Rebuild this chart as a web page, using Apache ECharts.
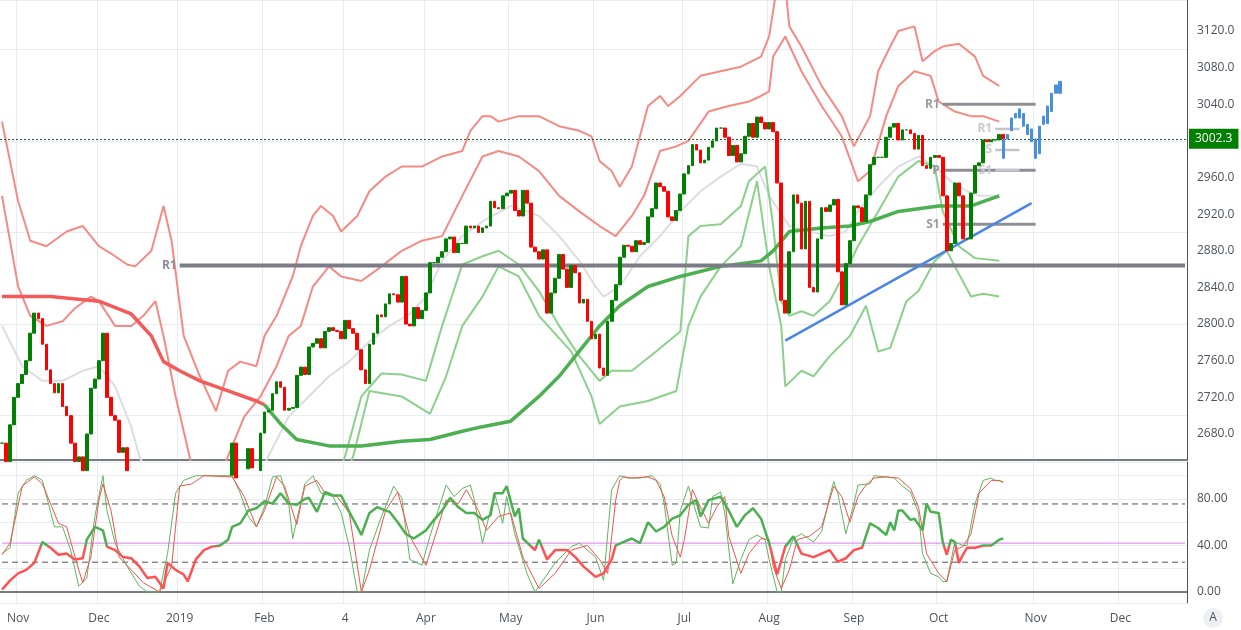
<!DOCTYPE html>
<html><head><meta charset="utf-8">
<script src="https://cdn.jsdelivr.net/npm/echarts@6/dist/echarts.min.js"></script>
<style>html,body{margin:0;padding:0;background:#fff}#c{width:1241px;height:630px}</style>
</head><body><div id="c"></div>
<script>
// ---- categories (trading-day slots) and month tick labels ----
const N = 294;
const monthTicks = {4:'Nov',24:'Dec',44:'2019',65:'Feb',85:'4',105:'Apr',126:'May',147:'Jun',169:'Jul',190:'Aug',211:'Sep',232:'Oct',256:'Nov',277:'Dec'};
const priceTicks = [2680,2720,2760,2800,2840,2880,2920,2960,3000,3040,3080,3120];
const oscTicks = [0,40,80];

// ---- daily closes ----
const closes = [
2670,2650,2690,2720,2735,
2745,2760,2790,2812,2806,2778,2750,2735,2725,2735,2710,2700,2670,2650,2655,2640,2680,2730,2740,2760,2790,
2720,2700,2695,2660,2665,2640,2650,2600,2595,2545,2505,2470,2420,2360,2460,2490,2485,2505,2535,2510,
2447,2531,2549,2574,2584,2596,2596,2582,2610,2616,2635,2670,2632,2638,2642,2664,2643,2640,2681,2704,
2706,2724,2737,2731,2706,2708,2709,2744,2753,2745,2775,2779,2784,2774,2792,2796,2793,2792,2784,
2804,2795,2790,2772,2750,2735,2778,2790,2810,2808,2822,2833,2832,2824,2852,2800,2798,2818,2806,2815,2834,
2867,2867,2873,2879,2893,2895,2878,2888,2888,2907,2905,2907,2900,2905,2907,2934,2927,2926,2940,2943,2946,
2924,2918,2946,2932,2884,2879,2871,2881,2812,2834,2850,2876,2860,2840,2864,2856,2823,2827,2803,2784,2789,2752,
2744,2803,2826,2843,2873,2886,2885,2879,2891,2887,2889,2917,2926,2954,2950,2945,2917,2913,2924,2942,
2964,2973,2996,2990,2976,2979,2993,3000,3014,3014,3004,2984,2995,2977,2986,3005,3019,3004,3026,3020,3013,3020,
3010,2954,2826,2812,2879,2941,2932,2882,2934,2840,2835,2893,2927,2923,2930,2936,2857,2821,2866,2891,2929,2927,2912,2941,2974,2982,2982,2982,3004,3015,3019,3001,3012,3012,3008,2991,3006,2973,2970,2982,2984,2982,2940,2880,2888,2954,2940,2893,2893,2943,2973,2976,3001,2999,3001,3001,3007,3002.3
];
const lastPrice = 3002.3;

// ---- projection bars [index, low, high] ----
const projection = [[248,2981,3002],[249,3002,3007],[250,3011,3025],[251,3025,3030],[252,3025,3035],[253,3016,3030],[254,3007,3018],[255,2999,3013],[256,2981,3002],[257,2986,3016],[258,3018,3027],[259,3019,3038],[260,3032,3052],[261,3052,3061],[262,3052,3065]];

// ---- overlay lines [index, price] ----
const redBandA = [[0,3021],[4,2934],[7,2891],[11,2885],[16,2901],[20,2907],[24,2885],[27,2877],[31,2865],[33,2863],[37,2880],[40,2929],[42,2891],[45,2787],[49,2743],[53,2705],[56,2749],[59,2759],[63,2754],[65,2787],[68,2809],[72,2852],[74,2885],[77,2918],[79,2929],[82,2918],[84,2901],[88,2918],[91,2945],[95,2961],[99,2972],[104,2972],[109,2983],[114,2989],[116,3011],[119,3027],[121,3027],[123,3021],[128,3027],[133,3027],[138,3016],[143,3011],[146,3005],[148,2978],[151,2967],[153,2950],[156,2972],[158,3005],[160,3038],[163,3049],[165,3038],[168,3049],[173,3071],[178,3076],[183,3081],[188,3092],[190,3114],[192,3170],[194,3170],[195,3125],[198,3103],[203,3060],[208,3027],[211,2994],[215,3027],[217,3076],[220,3103],[222,3120],[226,3125],[228,3087],[231,3098],[233,3103],[237,3106],[241,3092],[243,3071],[247,3060]];
const redBandB = [[0,2940],[4,2841],[7,2809],[11,2798],[15,2803],[18,2817],[22,2830],[24,2825],[28,2798],[32,2798],[35,2809],[38,2825],[40,2787],[43,2721],[47,2645],[51,2600],[56,2656],[60,2699],[64,2721],[68,2754],[71,2787],[74,2798],[77,2841],[81,2863],[84,2852],[89,2847],[94,2863],[99,2880],[104,2891],[109,2896],[114,2940],[119,2983],[123,2989],[128,2983],[133,2967],[138,2940],[143,2923],[148,2907],[152,2896],[156,2918],[159,2940],[163,2989],[167,2994],[170,3000],[175,3032],[180,3038],[185,3043],[188,3049],[190,3054],[191,3092],[194,3114],[198,3076],[203,3038],[208,3005],[212,2956],[215,2967],[219,3027],[222,3060],[226,3076],[230,3071],[232,3043],[236,3032],[240,3027],[243,3027],[247,3021]];
const greenBandA = [[80,2600],[85,2656],[89,2721],[94,2746],[99,2745],[105,2738],[109,2798],[114,2865],[119,2874],[123,2880],[128,2865],[133,2836],[138,2798],[143,2765],[148,2738],[151,2749],[156,2749],[162,2770],[168,2792],[170,2896],[173,2907],[178,2909],[183,2929],[185,2956],[189,2972],[191,2907],[193,2825],[195,2809],[198,2814],[201,2809],[205,2825],[209,2858],[212,2885],[217,2923],[222,2961],[227,2978],[231,2972],[233,2923],[237,2885],[241,2872],[247,2869]];
const greenBandB = [[82,2600],[87,2656],[91,2727],[99,2721],[106,2702],[110,2743],[114,2798],[119,2830],[123,2863],[128,2852],[133,2809],[141,2770],[146,2721],[148,2691],[153,2710],[160,2716],[167,2727],[170,2798],[173,2830],[178,2863],[183,2885],[187,2956],[190,2863],[193,2798],[194,2732],[198,2749],[201,2743],[205,2765],[210,2787],[214,2820],[217,2770],[220,2774],[224,2825],[227,2836],[231,2869],[234,2880],[236,2863],[240,2830],[243,2833],[247,2830]];
const grayMid = [[0,2798],[5,2754],[10,2738],[15,2738],[20,2749],[24,2754],[28,2732],[32,2688],[34,2656],[40,2600],[50,2560],[60,2600],[66,2656],[71,2699],[76,2721],[81,2743],[86,2759],[91,2781],[96,2798],[101,2811],[105,2830],[109,2869],[114,2896],[119,2912],[126,2929],[130,2923],[133,2918],[138,2896],[143,2869],[147,2841],[149,2830],[153,2841],[158,2874],[163,2896],[168,2923],[173,2945],[178,2961],[183,2975],[187,2972],[190,2940],[195,2907],[200,2901],[205,2896],[209,2901],[212,2923],[217,2950],[222,2972],[227,2983],[231,2972],[235,2956],[239,2945],[242,2940],[247,2940]];
const slowMaRed = [[0,2830],[12,2830],[24,2825],[32,2811],[37,2787],[40,2759],[44,2749],[49,2738],[56,2727],[63,2716],[65,2712]];
const slowMaGreen = [[65,2712],[69,2691],[73,2674],[81,2667],[89,2667],[99,2672],[106,2674],[114,2683],[119,2688],[126,2694],[133,2721],[138,2743],[142,2765],[148,2798],[153,2820],[160,2841],[168,2852],[178,2863],[188,2869],[191,2880],[195,2901],[203,2905],[210,2907],[215,2912],[222,2923],[232,2929],[240,2929],[247,2940]];
const trendLine = [[194,2782],[255,2932]];
const pivotMain = {name:'R1', from:44, to:293, value:2864};
const pivots = [{name:'R1',from:233,to:256,value:3040},{name:'P',from:233,to:256,value:2968},{name:'S1',from:233,to:256,value:2909}];
const pivotsLight = [{name:'R1',from:246,to:252,value:3013},{name:'S',from:246,to:252,value:2990},{name:'S1',from:246,to:252,value:2968}];

// ---- oscillator [index, value] ----
const oscThick = [[0,2],[2,10],[4,16],[6,19],[8,25],[10,43],[12,38],[14,32],[16,33],[18,28],[20,29],[21,45],[23,56],[25,53],[26,39],[28,36],[30,30],[32,29],[34,22],[36,12],[38,13],[40,3],[41,25],[43,19],[45,15],[46,9],[48,28],[50,36],[52,39],[54,40],[56,45],[57,56],[59,59],[61,70],[63,72],[65,78],[67,76],[69,85],[71,76],[73,75],[75,80],[76,81],[78,69],[80,86],[82,83],[84,83],[86,69],[88,56],[89,49],[91,68],[93,73],[95,70],[96,69],[98,60],[100,50],[102,46],[105,53],[107,62],[109,70],[111,81],[113,73],[115,68],[117,68],[119,62],[121,66],[122,85],[124,85],[125,91],[127,65],[128,72],[129,46],[132,36],[133,45],[135,28],[137,36],[140,36],[142,30],[144,22],[147,13],[149,16],[151,28],[152,40],[154,43],[156,46],[158,42],[160,60],[162,52],[164,56],[166,63],[168,66],[170,75],[172,79],[173,65],[175,79],[178,82],[180,70],[182,56],[184,66],[186,72],[188,63],[190,42],[192,15],[194,39],[196,48],[198,33],[201,30],[203,33],[205,36],[207,26],[209,29],[211,36],[213,38],[215,59],[217,55],[219,49],[220,60],[221,53],[222,70],[223,70],[225,62],[226,63],[228,53],[229,76],[230,69],[232,68],[233,43],[234,32],[235,45],[236,43],[237,25],[238,32],[239,38],[241,38],[243,40],[245,40],[247,45],[248,46]];
const stochK = [[0,33],[2,38],[4,85],[6,96],[8,100],[10,96],[13,56],[15,56],[17,36],[19,5],[21,12],[23,65],[25,100],[26,70],[28,42],[31,22],[34,5],[36,0],[39,0],[41,33],[43,85],[45,96],[48,100],[51,100],[57,100],[59,85],[61,65],[63,56],[65,73],[67,99],[69,100],[71,76],[72,46],[75,93],[77,100],[79,85],[82,82],[84,68],[86,39],[88,0],[89,0],[91,36],[94,65],[97,91],[99,81],[101,28],[104,23],[106,48],[108,70],[110,92],[112,82],[114,89],[116,92],[117,79],[119,42],[122,85],[124,59],[125,82],[127,50],[130,16],[132,0],[137,25],[141,39],[143,42],[147,30],[149,10],[151,88],[153,100],[155,98],[158,98],[161,100],[163,93],[164,76],[166,23],[167,25],[168,70],[170,91],[171,79],[173,56],[175,55],[176,82],[178,86],[179,68],[181,7],[183,28],[185,45],[187,49],[189,45],[190,28],[192,0],[193,0],[194,28],[196,46],[198,50],[201,43],[203,52],[205,82],[206,95],[207,85],[209,50],[211,76],[212,92],[215,93],[216,100],[219,99],[221,98],[223,91],[225,86],[227,68],[228,33],[230,16],[232,13],[233,9],[234,9],[236,43],[238,40],[239,40],[241,76],[243,96],[245,98],[246,96],[248,95]];
const stochD = [[0,32],[2,42],[5,91],[8,99],[10,93],[14,59],[16,56],[19,19],[20,8],[22,30],[24,79],[25,93],[27,70],[29,30],[32,19],[35,8],[39,0],[42,22],[44,91],[47,93],[50,100],[57,99],[60,82],[63,56],[65,70],[68,99],[70,91],[73,58],[75,91],[78,96],[80,85],[83,82],[86,68],[89,0],[91,19],[95,70],[98,86],[101,48],[105,23],[108,56],[110,79],[113,76],[115,88],[118,70],[120,53],[123,65],[126,68],[129,30],[133,3],[137,16],[141,36],[145,40],[148,28],[150,16],[152,79],[153,96],[154,99],[156,98],[160,99],[162,96],[164,82],[166,48],[168,30],[169,45],[171,88],[173,73],[175,59],[177,73],[179,82],[180,48],[183,16],[185,33],[188,46],[190,45],[191,22],[193,3],[195,19],[197,45],[200,48],[203,56],[206,91],[208,82],[210,60],[212,82],[214,92],[216,98],[219,99],[222,98],[225,89],[227,73],[229,33],[232,16],[234,9],[236,36],[238,39],[240,50],[242,85],[245,96],[247,96],[248,94]];
const oscLevels = {upper:75.7, lower:25.6, mid:42};

// ---- build ----
const cats = Array.from({length:N},(_,i)=> monthTicks[i] || '');
const candles = closes.map((c,i)=>{ const o = i===0 ? c : closes[i-1]; return [o,c,Math.min(o,c),Math.max(o,c)]; });
const proj = new Array(N).fill('-');
projection.forEach(p=>{ proj[p[0]] = [p[1],p[2],p[1],p[2]]; });

const FONT = 'Open Sans';
const labelCol = '#4c525e';
const gridCol = '#e6ecf2';
const showTick = (i,v)=> v!=='';
const OSC_MIN = -9.5, OSC_MAX = 111.8;
const midStop = (OSC_MAX - oscLevels.mid)/(OSC_MAX - OSC_MIN);

function line(data, color, width, opts){ return Object.assign({type:'line', data, symbol:'none', silent:true, xAxisIndex:0, yAxisIndex:0, lineStyle:{color, width}, z:2}, opts||{}); }
function pivotSeries(p, color, width, labColor){
  return {type:'line', symbol:'circle', symbolSize:0.01, showSymbol:true, silent:true, xAxisIndex:0, yAxisIndex:0, lineStyle:{color, width}, itemStyle:{color}, z:3,
    data:[{value:[p.from,p.value], label:{show:true, position:'left', formatter:p.name, color:labColor, fontFamily:FONT, fontSize:12, fontWeight:'bold', distance:3}},[p.to,p.value]]};
}
function hLine(value, color, type){
  return {type:'line', xAxisIndex:1, yAxisIndex:1, symbol:'none', silent:true, z:1,
    data:[[0,value],[N-1,value]], lineStyle:{color, width:1, type}};
}

const series = [
  line(grayMid,'#dcdde3',2),
  line(redBandA,'#f58a83',2),
  line(redBandB,'#f58a83',2),
  line(greenBandA,'#8bd08b',2),
  line(greenBandB,'#8bd08b',2),
  line(slowMaRed,'#f35b5b',3.5),
  line(slowMaGreen,'#4caf50',3.5),
  pivotSeries(pivotMain,'#7b7c85',4,'#8a8b93'),
  ...pivots.map(p=>pivotSeries(p,'#8e8f96',3,'#9a9ba2')),
  ...pivotsLight.map(p=>pivotSeries(p,'#c3c4ca',2.5,'#c9cad0')),
  {type:'candlestick', data:candles, xAxisIndex:0, yAxisIndex:0, barWidth:3.2, z:5,
   itemStyle:{color:'#008000', color0:'#ff0000', borderColor:'#008000', borderColor0:'#ff0000', borderWidth:1},
   markLine:{symbol:'none', silent:true, lineStyle:{type:[2,2], color:'#1b5e20', width:1},
     label:{show:true, position:'end', formatter: ()=>lastPrice.toFixed(1), color:'#fff', backgroundColor:'#008000', padding:[4,6], fontFamily:FONT, fontSize:12, distance:2},
     data:[{yAxis:lastPrice}]}},
  {type:'candlestick', data:proj, xAxisIndex:0, yAxisIndex:0, barWidth:3, z:6,
   itemStyle:{color:'#4a90d9', color0:'#4a90d9', borderColor:'#4a90d9', borderColor0:'#4a90d9'}},
  line(trendLine,'#4a86e8',2.5,{z:4}),
  // oscillator
  hLine(oscLevels.upper,'#555',[6,4]),
  hLine(oscLevels.lower,'#555',[6,4]),
  hLine(oscLevels.mid,'#e07cf0','solid'),
  {type:'line', data:stochK, symbol:'none', silent:true, xAxisIndex:1, yAxisIndex:1, lineStyle:{color:'#5cb85c', width:1}, z:2},
  {type:'line', data:stochD, symbol:'none', silent:true, xAxisIndex:1, yAxisIndex:1, lineStyle:{color:'#f4524d', width:1}, z:2},
  {type:'line', data:oscThick, symbol:'none', silent:true, xAxisIndex:1, yAxisIndex:1, z:3,
   lineStyle:{width:2.5, color:new echarts.graphic.LinearGradient(0,0,0,1,[
     {offset:0,color:'#4caf50'},{offset:midStop,color:'#4caf50'},{offset:midStop,color:'#ff5252'},{offset:1,color:'#ff5252'}], false)}}
];

const chart = echarts.init(document.getElementById('c'));
const xBase = {type:'category', data:cats, boundaryGap:true,
  axisTick:{show:false}, splitLine:{show:true, interval:showTick, lineStyle:{color:gridCol}}};
chart.setOption({
  animation:false, backgroundColor:'#fff',
  grid:[{left:0, right:54, top:0, height:460}, {left:0, right:54, top:462, height:141}],
  xAxis:[
    Object.assign({}, xBase, {gridIndex:0, axisLabel:{show:false}, axisLine:{show:true, lineStyle:{color:'#50535e', width:1.5}}}),
    Object.assign({}, xBase, {gridIndex:1, axisLine:{show:true, lineStyle:{color:'#50535e', width:1.5}},
      axisLabel:{interval:showTick, color:labelCol, fontFamily:FONT, fontSize:12, margin:10}})
  ],
  yAxis:[
    {type:'value', gridIndex:0, position:'right', min:2651.6, max:3153.8,
     axisLine:{show:true, lineStyle:{color:'#50535e'}}, axisTick:{show:false},
     axisLabel:{customValues:priceTicks, formatter:v=>v.toFixed(1), color:labelCol, fontFamily:FONT, fontSize:12, margin:10},
     splitLine:{show:true, lineStyle:{color:gridCol}}},
    {type:'value', gridIndex:1, position:'right', min:OSC_MIN, max:OSC_MAX,
     axisLine:{show:true, lineStyle:{color:'#50535e'}}, axisTick:{show:false},
     axisLabel:{customValues:oscTicks, formatter:v=>v.toFixed(2), color:labelCol, fontFamily:FONT, fontSize:12, margin:10},
     splitLine:{show:true, lineStyle:{color:gridCol}}}
  ],
  graphic:[
    {type:'circle', shape:{cx:1213, cy:618, r:10}, style:{fill:'#eef0f3'}},
    {type:'text', x:1213, y:618, style:{text:'A', fill:labelCol, font:'12px "Open Sans"', align:'center', verticalAlign:'middle'}}
  ],
  series
});
</script></body></html>
